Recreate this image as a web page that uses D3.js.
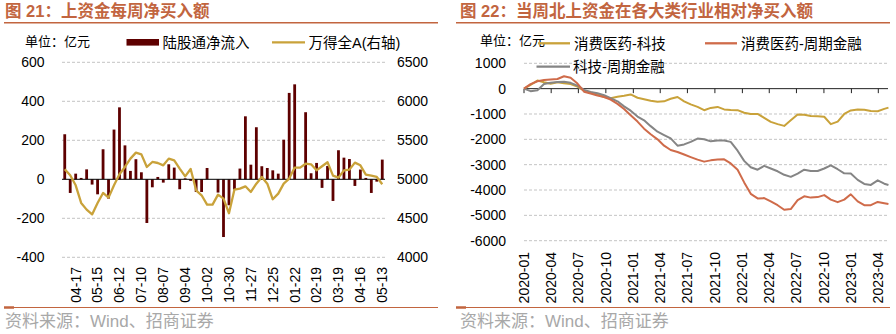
<!DOCTYPE html>
<html><head><meta charset="utf-8">
<script src="https://cdn.jsdelivr.net/npm/d3@7"></script>
<style>
body{margin:0;background:#fff;}
svg{display:block;}
text{font-family:"Liberation Sans",Arial,"Noto Sans CJK SC",sans-serif;}
</style>
</head><body><svg id="c" width="896" height="334"></svg>
<script>
// ---------- Left chart data ----------
const weeks = ["04-03","04-10","04-17","04-24","05-01","05-08","05-15","05-22","05-29","06-05",
 "06-12","06-19","06-26","07-03","07-10","07-17","07-24","07-31","08-07","08-14",
 "08-21","08-28","09-04","09-11","09-18","09-25","10-02","10-09","10-16","10-23",
 "10-30","11-06","11-13","11-20","11-27","12-04","12-11","12-18","12-25","01-01",
 "01-08","01-15","01-22","01-29","02-05","02-12","02-19","02-26","03-05","03-12",
 "03-19","03-26","04-02","04-09","04-16","04-23","04-30","05-07","05-13"];
const netInflow = [231,-70,29,7,51,-27,-77,154,-99,255,
 369,174,43,103,36,-224,-41,12,-17,77,
 60,-51,5,-8,-65,-65,58,0,-68,-296,
 -133,-53,55,323,75,267,67,58,46,29,
 203,443,487,0,344,31,84,-44,68,-111,
 149,111,104,-34,50,7,-70,-12,101];
const windA = [5130,5051,4923,4697,4611,4550,4697,4825,4765,4923,
 5064,5158,5265,5342,5320,5158,5222,5209,5179,5265,
 5243,5137,5038,5132,4859,4795,4675,4675,4803,4752,
 4565,4868,4880,4910,4838,4944,5030,4944,4744,4816,
 4944,5009,5150,5150,5200,5192,5115,5167,5218,5047,
 5021,5115,5124,5214,5179,5060,5047,5030,4936];
const leftTickLabels = ["04-17","05-15","06-12","07-10","08-07","09-04","10-02","10-30",
 "11-27","12-25","01-22","02-19","03-19","04-16","05-13"];
const leftYTicks = [600,400,200,0,-200,-400];
const rightYTicksL = [6500,6000,5500,5000,4500,4000];

// ---------- Right chart data ----------
const dates = ["2020-01-01","2020-01-23","2020-02-15","2020-03-08","2020-03-30","2020-04-22","2020-05-14","2020-06-05","2020-06-28","2020-07-20",
 "2020-08-11","2020-09-03","2020-09-25","2020-10-17","2020-11-09","2020-12-01","2020-12-23","2021-01-15","2021-02-06","2021-02-28",
 "2021-03-23","2021-04-14","2021-05-06","2021-05-29","2021-06-20","2021-07-12","2021-08-04","2021-08-26","2021-09-17","2021-10-10",
 "2021-11-01","2021-11-23","2021-12-16","2022-01-07","2022-01-29","2022-02-21","2022-03-15","2022-04-06","2022-04-29","2022-05-21",
 "2022-06-12","2022-07-05","2022-07-27","2022-08-18","2022-09-10","2022-10-02","2022-10-24","2022-11-16","2022-12-08","2022-12-30",
 "2023-01-22","2023-02-13","2023-03-07","2023-03-30","2023-04-21","2023-05-05"];
const medVsTech = [0,150,320,250,190,250,210,180,80,-80,
 -150,-230,-330,-380,-320,-280,-230,-360,-420,-480,
 -520,-500,-400,-330,-500,-620,-720,-850,-760,-720,
 -820,-840,-850,-950,-1000,-1000,-1150,-1310,-1400,-1470,
 -1250,-1020,-1030,-1080,-1090,-1110,-1400,-1300,-1000,-860,
 -820,-830,-880,-890,-800,-750];
const medVsCyc = [0,180,290,340,360,380,490,430,200,-120,
 -190,-270,-330,-430,-600,-800,-1050,-1300,-1580,-1800,
 -2000,-2250,-2420,-2500,-2600,-2700,-2800,-2880,-2830,-2800,
 -2790,-2950,-3200,-3700,-4150,-4330,-4320,-4450,-4600,-4780,
 -4750,-4400,-4250,-4300,-4280,-4200,-4380,-4480,-4380,-4170,
 -4450,-4600,-4600,-4470,-4520,-4550];
const techVsCyc = [0,-100,-60,180,230,260,270,230,120,-50,
 -130,-180,-260,-380,-500,-700,-870,-1100,-1250,-1480,
 -1700,-1830,-1960,-2250,-2200,-2100,-1970,-2000,-2080,-2050,
 -2050,-2100,-2450,-2850,-3100,-3200,-3050,-3150,-3260,-3400,
 -3480,-3350,-3200,-3250,-3250,-3150,-3030,-3180,-3340,-3350,
 -3600,-3760,-3800,-3620,-3750,-3800];
const quarterTicks = ["2020-01","2020-04","2020-07","2020-10","2021-01","2021-04","2021-07","2021-10",
 "2022-01","2022-04","2022-07","2022-10","2023-01","2023-04"];
const rightYTicks = [1000,0,-1000,-2000,-3000,-4000,-5000,-6000];

// ---------- styles ----------
const TITLE_C = "#C2653F", BAR_C = "#5E0000", GOLD = "#C9A23A", ORANGE = "#CF6B4A", GRAY = "#858585";
const GRID_C = "#c4c4c4", SRC_C = "#a8a8a8";

const svg = d3.select("#c");

function frame(x0, x1, title, textX) {
  svg.append("text").attr("x", textX).attr("y", 17).attr("fill", TITLE_C)
    .attr("font-size", 16.5).attr("font-weight", "bold").text(title);
  svg.append("line").attr("x1", x0).attr("x2", x1).attr("y1", 22.7).attr("y2", 22.7)
    .attr("stroke", TITLE_C).attr("stroke-width", 1.5);
  svg.append("line").attr("x1", x0).attr("x2", x1).attr("y1", 307.5).attr("y2", 307.5)
    .attr("stroke", TITLE_C).attr("stroke-width", 1);
  svg.append("line").attr("x1", x0).attr("x2", x0 + 10).attr("y1", 307.5).attr("y2", 307.5)
    .attr("stroke", TITLE_C).attr("stroke-width", 2.5);
  svg.append("text").attr("x", textX).attr("y", 327).attr("fill", SRC_C)
    .attr("font-size", 17).text("资料来源：Wind、招商证券");
}
frame(4, 438, "图 21：上资金每周净买入额", 5);
frame(456, 890, "图 22：当周北上资金在各大类行业相对净买入额", 460);

// ---------- Left chart ----------
const xb = d3.scaleBand().domain(weeks).range([62, 385]);
const bw = xb.bandwidth();
const cx = d => xb(d) + bw / 2;
const yL = d3.scaleLinear().domain([-400, 600]).range([257.3, 62.3]);
const yR = d3.scaleLinear().domain([4000, 6500]).range([257.3, 62.3]);

const gL = svg.append("g");
gL.selectAll("line.grid").data(leftYTicks.filter(v => v !== 0)).join("line")
  .attr("x1", 62).attr("x2", 385).attr("y1", d => yL(d)).attr("y2", d => yL(d))
  .attr("stroke", GRID_C).attr("stroke-dasharray", "3,2");
gL.selectAll("text.yl").data(leftYTicks).join("text")
  .attr("x", 44.5).attr("y", d => yL(d)).attr("dy", "0.35em").attr("text-anchor", "end")
  .attr("font-size", 14).text(d => d);
gL.selectAll("text.yr").data(rightYTicksL).join("text")
  .attr("x", 397).attr("y", d => yR(d)).attr("dy", "0.35em").attr("text-anchor", "start")
  .attr("font-size", 14).text(d => d);

gL.selectAll("rect.bar").data(weeks).join("rect")
  .attr("x", d => cx(d) - 1.4).attr("width", 2.8)
  .attr("y", (d, i) => yL(Math.max(0, netInflow[i])))
  .attr("height", (d, i) => Math.abs(yL(netInflow[i]) - yL(0)))
  .attr("fill", BAR_C);
gL.append("line").attr("x1", 62).attr("x2", 385).attr("y1", yL(0)).attr("y2", yL(0))
  .attr("stroke", "#000").attr("stroke-width", 1);
gL.append("path").datum(weeks)
  .attr("d", d3.line().x(d => cx(d)).y((d, i) => yR(windA[i])))
  .attr("fill", "none").attr("stroke", GOLD).attr("stroke-width", 2.3).attr("stroke-linejoin", "round");

gL.selectAll("text.xl").data(leftTickLabels).join("text")
  .attr("transform", d => `translate(${cx(d)},267) rotate(-90)`)
  .attr("dy", "0.35em").attr("text-anchor", "end").attr("font-size", 14).text(d => d);

// left legend
svg.append("text").attr("x", 25).attr("y", 45.5).attr("font-size", 13).text("单位：亿元");
svg.append("rect").attr("x", 126.5).attr("y", 39).attr("width", 32.5).attr("height", 6.6).attr("fill", BAR_C);
svg.append("text").attr("x", 162.5).attr("y", 48).attr("font-size", 14.5).text("陆股通净流入");
svg.append("line").attr("x1", 272).attr("x2", 305).attr("y1", 42.3).attr("y2", 42.3)
  .attr("stroke", GOLD).attr("stroke-width", 2.3);
svg.append("text").attr("x", 308.5).attr("y", 48).attr("font-size", 14.5).text("万得全A(右轴)");

// ---------- Right chart ----------
const parse = d3.timeParse("%Y-%m-%d");
const parseQ = d3.timeParse("%Y-%m");
const xt = d3.scaleTime().domain([new Date(2020, 0, 1), new Date(2023, 3, 1)]).range([524, 878.3]);
const y2 = d3.scaleLinear().domain([-6000, 1000]).range([240.7, 63.3]);
const gR = svg.append("g");
gR.selectAll("line.grid").data(rightYTicks.filter(v => v !== 0)).join("line")
  .attr("x1", 524).attr("x2", 888).attr("y1", d => y2(d)).attr("y2", d => y2(d))
  .attr("stroke", GRID_C).attr("stroke-dasharray", "3,2");
gR.selectAll("text.yl").data(rightYTicks).join("text")
  .attr("x", 506).attr("y", d => y2(d)).attr("dy", "0.35em").attr("text-anchor", "end")
  .attr("font-size", 14).text(d => d);
gR.append("line").attr("x1", 524).attr("x2", 888).attr("y1", y2(0)).attr("y2", y2(0))
  .attr("stroke", "#222").attr("stroke-width", 1);
gR.selectAll("line.tick").data(quarterTicks).join("line")
  .attr("x1", d => xt(parseQ(d))).attr("x2", d => xt(parseQ(d)))
  .attr("y1", y2(0)).attr("y2", y2(0) + 4.5).attr("stroke", "#222").attr("stroke-width", 1);
gR.selectAll("text.xl").data(quarterTicks).join("text")
  .attr("transform", d => `translate(${xt(parseQ(d))},252) rotate(-90)`)
  .attr("dy", "0.35em").attr("text-anchor", "end").attr("font-size", 14).text(d => d);

const series = [
  {vals: medVsTech, color: GOLD},
  {vals: techVsCyc, color: GRAY},
  {vals: medVsCyc, color: ORANGE}
];
const dd = dates.map(parse);
series.forEach(s => {
  gR.append("path").datum(dd)
    .attr("d", d3.line().x(d => xt(d)).y((d, i) => y2(s.vals[i])))
    .attr("fill", "none").attr("stroke", s.color).attr("stroke-width", 2).attr("stroke-linejoin", "round");
});

// right legend
svg.append("text").attr("x", 480).attr("y", 45).attr("font-size", 13).text("单位：亿元");
svg.append("line").attr("x1", 538).attr("x2", 570).attr("y1", 43.3).attr("y2", 43.3).attr("stroke", GOLD).attr("stroke-width", 2.3);
svg.append("text").attr("x", 574).attr("y", 49).attr("font-size", 14.5).text("消费医药-科技");
svg.append("line").attr("x1", 705).attr("x2", 737).attr("y1", 43.3).attr("y2", 43.3).attr("stroke", ORANGE).attr("stroke-width", 2.3);
svg.append("text").attr("x", 741).attr("y", 49).attr("font-size", 14.5).text("消费医药-周期金融");
svg.append("line").attr("x1", 536.5).attr("x2", 570).attr("y1", 66.7).attr("y2", 66.7).attr("stroke", GRAY).attr("stroke-width", 2.3);
svg.append("text").attr("x", 573).attr("y", 72).attr("font-size", 14.5).text("科技-周期金融");
</script>
</body></html>
